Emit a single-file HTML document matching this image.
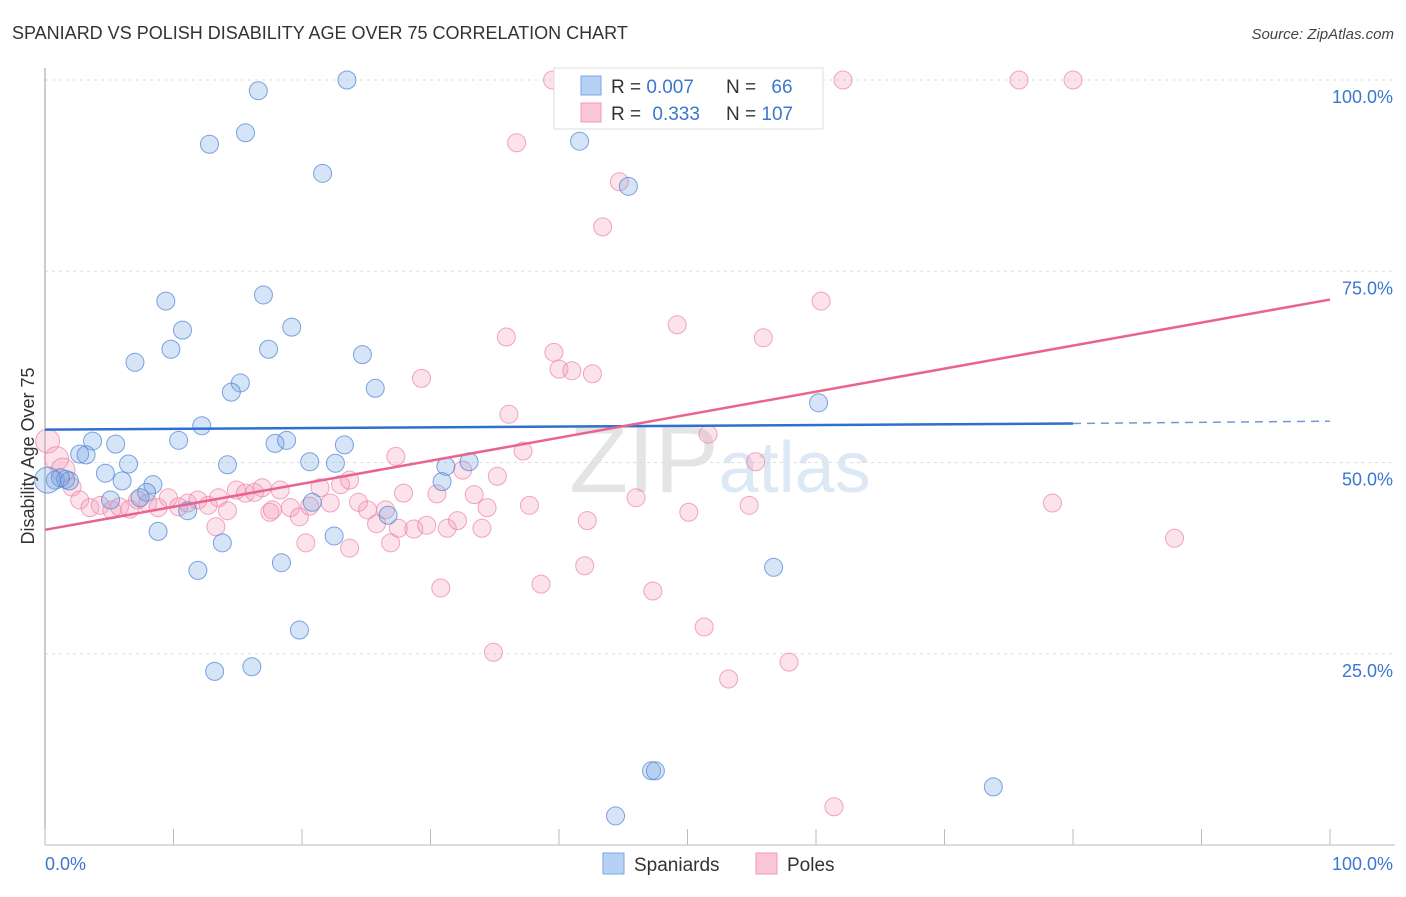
<!DOCTYPE html>
<html><head><meta charset="utf-8"><style>
body{margin:0;background:#fff;font-family:"Liberation Sans",sans-serif;}
svg text{font-family:"Liberation Sans",sans-serif;}
</style></head><body>
<svg id="chart" width="1406" height="892" xmlns="http://www.w3.org/2000/svg">
<text x="12" y="39" font-size="18" fill="#333">SPANIARD VS POLISH DISABILITY AGE OVER 75 CORRELATION CHART</text>
<text x="1394" y="39" font-size="15" fill="#444" text-anchor="end" font-style="italic">Source: ZipAtlas.com</text>
<text x="720" y="492" font-size="96" fill="#e4e4e4" text-anchor="middle" font-family="Liberation Serif">ZIP<tspan fill="#dde8f5" font-family="Liberation Sans" font-size="72">atlas</tspan></text>
<g id="grid"></g>
<g id="axes"></g>
<g id="pts"></g>
<g id="lines"></g>
<text transform="translate(34,456) rotate(-90)" font-size="18" fill="#333" text-anchor="middle">Disability Age Over 75</text>
<g>
<rect x="554" y="68" width="269" height="61" fill="#fff" stroke="#ddd"/>
<rect x="581" y="76" width="20" height="19" fill="#b7d1f5" stroke="#7aa6e6"/>
<rect x="581" y="103" width="20" height="19" fill="#f9c6d5" stroke="#f09ab5"/>
<text x="611" y="93" font-size="19" fill="#333">R = <tspan fill="#3b76d0">0.007</tspan></text>
<text x="726" y="93" font-size="19" fill="#333">N = <tspan fill="#3b76d0" dx="10">66</tspan></text>
<text x="611" y="120" font-size="19" fill="#333">R = <tspan fill="#3b76d0" dx="6">0.333</tspan></text>
<text x="726" y="120" font-size="19" fill="#333">N = <tspan fill="#3b76d0">107</tspan></text>
</g>
<g>
<rect x="603" y="853" width="21" height="21" fill="#b7d1f5" stroke="#7aa6e6"/>
<text x="634" y="871" font-size="19" fill="#333">Spaniards</text>
<rect x="756" y="853" width="21" height="21" fill="#f9c6d5" stroke="#f09ab5"/>
<text x="787" y="871" font-size="19" fill="#333">Poles</text>
</g>
</svg>
<script>
const yTicks=[100,75,50,25];
const yTickLabels=["100.0%","75.0%","50.0%","25.0%"];
const xTickLabels=["0.0%","100.0%"];
const blueX=[23.5,16.6,12.8,15.6,21.6,41.6,45.4,9.4,17.0,10.7,19.2,7.0,9.8,17.4,24.7,15.2,14.5,25.7,60.2,12.2,3.7,5.5,10.4,17.9,18.8,23.3,2.7,3.2,6.5,14.2,20.6,22.6,31.2,33.0,4.7,6.0,8.4,30.9,0.8,1.6,1.9,1.2,7.9,5.1,7.4,20.8,11.1,26.7,8.8,13.8,22.5,11.9,18.4,56.7,19.8,13.2,16.1,47.2,47.5,73.8,44.4,0.2,52.1,49.8];
const blueY=[100,98.6,91.6,93.1,87.8,92.0,86.1,71.1,71.9,67.3,67.7,63.1,64.8,64.8,64.1,60.4,59.2,59.7,57.8,54.8,52.8,52.4,52.9,52.5,52.9,52.3,51.1,51.0,49.8,49.7,50.1,49.9,49.5,50.1,48.6,47.6,47.1,47.5,47.7,47.8,47.6,48.0,46.1,45.1,45.4,44.8,43.7,43.1,41.0,39.5,40.4,35.9,36.9,36.3,28.1,22.7,23.3,9.7,9.7,7.6,3.8,47.7,100,100];
const pinkX=[39.5,41.2,47.1,62.1,75.8,80.0,36.7,44.7,43.4,60.4,49.2,35.9,55.9,39.6,40.0,41.0,42.6,29.3,36.1,51.6,27.3,37.2,32.5,35.2,55.3,0.2,0.9,1.4,2.1,2.7,3.5,4.3,5.2,5.8,6.6,7.2,8.0,8.8,9.6,10.4,11.1,11.9,12.7,13.5,14.2,14.9,15.6,16.3,16.9,17.5,18.3,19.1,19.8,20.6,21.4,22.2,23.0,23.7,24.4,25.1,25.8,26.5,27.5,27.9,28.7,29.7,30.5,31.3,32.1,33.4,34.4,34.0,37.7,42.2,46.0,50.1,54.8,78.4,87.9,30.8,38.6,42.0,47.3,51.3,34.9,53.2,57.9,61.4,20.3,23.7,26.9,13.3,17.7];
const pinkY=[100,100,100,100,100,100,91.8,86.7,80.8,71.1,68.0,66.4,66.3,64.4,62.2,62.0,61.6,61.0,56.3,53.7,50.8,51.5,49.0,48.2,50.1,52.8,50.5,49.0,46.8,45.1,44.1,44.4,43.8,44.2,43.9,45.1,44.7,44.1,45.4,44.2,44.7,45.1,44.4,45.4,43.7,46.4,46.0,46.1,46.7,43.5,46.4,44.1,42.9,44.3,46.7,44.7,47.1,47.7,44.8,43.8,42.0,43.8,41.4,46.0,41.3,41.8,45.9,41.4,42.4,45.8,44.1,41.4,44.4,42.4,45.4,43.5,44.4,44.7,40.1,33.6,34.1,36.5,33.2,28.5,25.2,21.7,23.9,5.0,39.5,38.8,39.5,41.6,43.8];
const blueTrend=[0,54.3,80,55.1,100,55.4];
const pinkTrend=[0,41.2,100,71.3];
const X0=45,X1=1330,Y0=845,Y100=80;
const sx=v=>X0+(X1-X0)*v/100, sy=v=>Y0-(Y0-Y100)*v/100;
const NS="http://www.w3.org/2000/svg";
function mk(t,a,p){const e=document.createElementNS(NS,t);for(const k in a)e.setAttribute(k,a[k]);p.appendChild(e);return e;}
const grid=document.getElementById('grid'),axes=document.getElementById('axes'),pts=document.getElementById('pts'),lines=document.getElementById('lines');
yTicks.forEach((t,i)=>{
 const g=mk('line',{x1:X0,x2:1395,y1:sy(t),y2:sy(t),stroke:'#ddd','stroke-dasharray':'3,4'},grid);
 
 
 const tx=mk('text',{x:1393,y:sy(t)+23,'font-size':18,fill:'#3b76d0','text-anchor':'end'},axes);
 tx.textContent=yTickLabels[i];
 
 
});
mk('line',{x1:X0,x2:X0,y1:68,y2:Y0,stroke:'#999'},axes);
mk('line',{x1:X0,x2:1395,y1:Y0,y2:Y0,stroke:'#bbb'},axes);
for(let i=0;i<=10;i++){const l=mk('line',{x1:sx(i*10),x2:sx(i*10),y1:829,y2:Y0,stroke:'#bbb'},axes);}
const xl0=mk('text',{x:45,y:870,'font-size':18,fill:'#3b76d0'},axes);xl0.textContent=xTickLabels[0];


const xl1=mk('text',{x:1393,y:870,'font-size':18,fill:'#3b76d0','text-anchor':'end'},axes);xl1.textContent=xTickLabels[1];


pinkX.forEach((x,i)=>{const r=(x<1.5)?12:9;const c=mk('circle',{cx:sx(x),cy:sy(pinkY[i]),r:r,fill:'rgba(244,150,180,0.28)',stroke:'rgba(236,130,165,0.7)','stroke-width':1},pts);
 
 });
blueX.forEach((x,i)=>{const r=(x<0.5)?13:9;const c=mk('circle',{cx:sx(x),cy:sy(blueY[i]),r:r,fill:'rgba(120,165,230,0.3)',stroke:'rgba(80,135,215,0.75)','stroke-width':1},pts);
 
 });
const bl=mk('line',{x1:sx(blueTrend[0]),y1:sy(blueTrend[1]),x2:sx(blueTrend[2]),y2:sy(blueTrend[3]),stroke:'#2f6fd0','stroke-width':2.5},lines);


const bd=mk('line',{x1:sx(blueTrend[2]),y1:sy(blueTrend[3]),x2:sx(blueTrend[4]),y2:sy(blueTrend[5]),stroke:'#6e9ad8','stroke-width':1.5,'stroke-dasharray':'8,6'},lines);


const pl=mk('line',{x1:sx(pinkTrend[0]),y1:sy(pinkTrend[1]),x2:sx(pinkTrend[2]),y2:sy(pinkTrend[3]),stroke:'#e8648e','stroke-width':2.5},lines);


</script>
</body></html>
